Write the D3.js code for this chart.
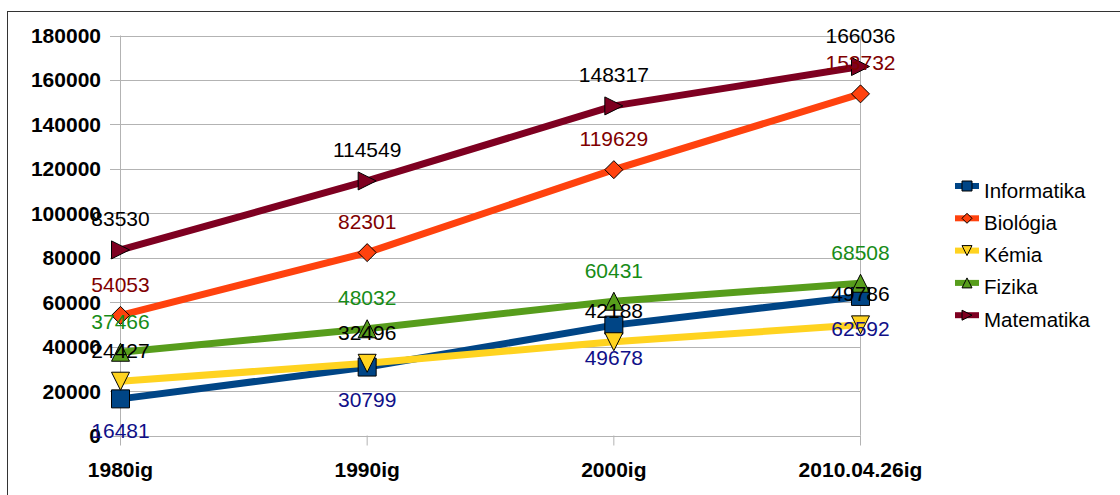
<!DOCTYPE html>
<html>
<head>
<meta charset="utf-8">
<script src="https://cdn.jsdelivr.net/npm/d3@7"></script>
<style>
  html, body { margin: 0; padding: 0; background: #fff; }
  svg { display: block; font-family: "Liberation Sans", Arial, sans-serif; }
</style>
</head>
<body>
<svg id="chart" width="1120" height="495"></svg>
<script>
const categories = ["1980ig", "1990ig", "2000ig", "2010.04.26ig"];
const seriesNames = ["Informatika", "Biológia", "Kémia", "Fizika", "Matematika"];
const informatika = [16481, 30799, 49678, 62592];
const biologia = [54053, 82301, 119629, 153732];
const kemia = [24427, 32496, 42188, 49786];
const fizika = [37466, 48032, 60431, 68508];
const matematika = [83530, 114549, 148317, 166036];
const yTicks = [0, 20000, 40000, 60000, 80000, 100000, 120000, 140000, 160000, 180000];

(function () {
const seriesValues = [informatika, biologia, kemia, fizika, matematika];
const lineColors = ["#004586", "#ff420e", "#ffd320", "#579d1c", "#7e0021"];
const labelColors = ["#101088", "#800000", "#000000", "#178c17", "#000000"];
const labelBelow = [true, false, false, false, false];
const markerTypes = ["square", "diamond", "down", "up", "right"];

const svg = d3.select("#chart");
const pL = 120.5, pR = 860.5, pT = 35.5, pB = 435.5;

const x = d3.scalePoint().domain(categories).range([pL, pR]).padding(0);
const y = d3.scaleLinear().domain([0, 180000]).range([pB, pT]);

// outer border
svg.append("rect").attr("x", 7.5).attr("y", 11.5).attr("width", 1130).attr("height", 500)
  .attr("fill", "none").attr("stroke", "#333").attr("stroke-width", 1);

// horizontal grid lines
svg.append("g").selectAll("line").data(yTicks).join("line")
  .attr("x1", 110).attr("x2", pR)
  .attr("y1", d => Math.round(y(d)) + 0.5).attr("y2", d => Math.round(y(d)) + 0.5)
  .attr("stroke", "#b3b3b3").attr("stroke-width", 1);

// plot side borders
svg.append("line").attr("x1", pL).attr("x2", pL).attr("y1", pT).attr("y2", pB)
  .attr("stroke", "#b3b3b3");
svg.append("line").attr("x1", pR).attr("x2", pR).attr("y1", pT).attr("y2", pB)
  .attr("stroke", "#b3b3b3");

// x ticks
svg.append("g").selectAll("line").data(categories).join("line")
  .attr("x1", d => x(d)).attr("x2", d => x(d)).attr("y1", pB).attr("y2", pB + 10)
  .attr("stroke", "#b3b3b3");

// y tick labels
svg.append("g").selectAll("text").data(yTicks).join("text")
  .attr("x", 101).attr("y", d => y(d) + 7.5)
  .attr("text-anchor", "end").attr("font-size", 21).attr("font-weight", "bold")
  .attr("fill", "#000").text(d => d);

// x labels
svg.append("g").selectAll("text").data(categories).join("text")
  .attr("x", d => x(d)).attr("y", 476.5)
  .attr("text-anchor", "middle").attr("font-size", 21).attr("font-weight", "bold")
  .attr("fill", "#000").text(d => d);

function markerPath(type, s) {
  const h = s / 2;
  switch (type) {
    case "square": return `M${-h},${-h}H${h}V${h}H${-h}Z`;
    case "diamond": return `M0,${-h}L${h},0L0,${h}L${-h},0Z`;
    case "down": return `M${-h},${-h}L${h},${-h}L0,${h}Z`;
    case "up": return `M0,${-h}L${h},${h}L${-h},${h}Z`;
    case "right": return `M${-h},${-h}L${h},0L${-h},${h}Z`;
  }
}

const line = d3.line().x((d, i) => x(categories[i])).y(d => y(d));

const gLines = svg.append("g");
const gMarks = svg.append("g");
const gLabels = svg.append("g");

seriesValues.forEach((vals, si) => {
  gLines.append("path").datum(vals).attr("d", line)
    .attr("fill", "none").attr("stroke", lineColors[si]).attr("stroke-width", 7)
    .attr("stroke-linejoin", "round");
});
seriesValues.forEach((vals, si) => {
  gMarks.selectAll(null).data(vals).join("path")
    .attr("transform", (d, i) => `translate(${x(categories[i])},${y(d)})`)
    .attr("d", markerPath(markerTypes[si], 18))
    .attr("fill", lineColors[si]).attr("stroke", "#000").attr("stroke-width", 1);
});
seriesValues.forEach((vals, si) => {
  gLabels.selectAll(null).data(vals).join("text")
    .attr("x", (d, i) => x(categories[i]))
    .attr("y", d => y(d) + (labelBelow[si] ? 32 : -31) + 7.5)
    .attr("text-anchor", "middle").attr("font-size", 21)
    .attr("fill", labelColors[si]).text(d => d);
});

// legend
const legend = svg.append("g");
seriesNames.forEach((name, si) => {
  const cy = 190 + si * 32.3;
  const my = cy - 4;
  legend.append("rect").attr("x", 955).attr("y", my - 3).attr("width", 24).attr("height", 6)
    .attr("fill", lineColors[si]);
  legend.append("path").attr("transform", `translate(967,${my})`)
    .attr("d", markerPath(markerTypes[si], 10))
    .attr("fill", lineColors[si]).attr("stroke", "#000").attr("stroke-width", 1);
  legend.append("text").attr("x", 984).attr("y", cy + 7.5)
    .attr("font-size", 20.5).attr("fill", "#000").text(name);
});
})();
</script>
</body>
</html>
